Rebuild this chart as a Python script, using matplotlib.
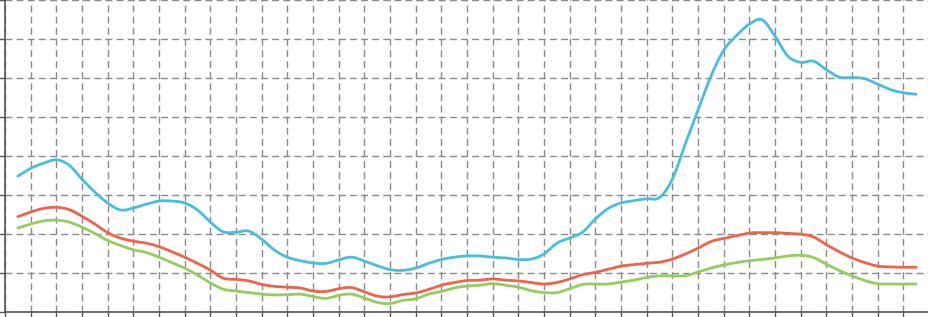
import numpy as np
import matplotlib
matplotlib.use("Agg")
import matplotlib.pyplot as plt

# readings taken every half grid step (x = 0.5, 1.0, ... 35.5)
x_steps = np.arange(1, 72) / 2.0

blue_vals = [34.8, 36.8, 38.1, 39.0, 37.6, 34.0, 30.7, 27.9, 26.1, 26.6,
             27.6, 28.4, 28.4, 27.9, 26.1, 23.0, 20.5, 20.4, 20.7, 18.6,
             15.8, 14.0, 13.1, 12.5, 12.4, 13.3, 14.0, 13.0, 11.8, 10.8,
             10.6, 11.2, 12.4, 13.4, 14.0, 14.3, 14.3, 14.0, 13.8, 13.4,
             13.5, 14.8, 17.6, 18.9, 20.4, 23.8, 26.5, 27.9, 28.5, 29.0,
             29.3, 34.0, 43.0, 51.7, 60.4, 67.1, 70.9, 73.8, 74.9, 70.7,
             65.6, 64.0, 64.3, 62.1, 60.2, 60.1, 59.8, 58.4, 57.0, 56.2,
             55.8]

red_vals = [24.4, 25.6, 26.5, 26.8, 26.2, 24.5, 22.5, 20.3, 18.9, 18.1,
            17.6, 16.7, 15.4, 14.0, 12.4, 10.7, 8.6, 8.3, 7.9, 7.0,
            6.5, 6.3, 6.1, 5.3, 5.2, 5.9, 6.2, 5.1, 4.0, 3.8,
            4.4, 4.8, 5.7, 6.8, 7.5, 8.0, 8.1, 8.4, 8.1, 7.9,
            7.5, 7.1, 7.5, 8.4, 9.5, 10.1, 10.9, 11.7, 12.1, 12.4,
            12.7, 13.5, 14.8, 16.3, 18.0, 18.8, 19.5, 20.2, 20.3, 20.3,
            20.1, 19.9, 19.2, 17.2, 15.4, 13.8, 12.6, 11.7, 11.5, 11.4,
            11.4]

green_vals = [21.5, 22.5, 23.3, 23.5, 23.0, 21.7, 20.1, 18.3, 17.0, 15.9,
              15.2, 14.0, 12.6, 11.2, 9.4, 7.4, 5.8, 5.3, 4.9, 4.5,
              4.3, 4.4, 4.5, 3.9, 3.4, 4.2, 4.5, 3.5, 2.4, 2.1,
              2.9, 3.3, 4.5, 5.2, 6.1, 6.6, 6.8, 7.2, 6.8, 6.3,
              5.4, 4.9, 4.9, 5.9, 7.0, 7.1, 7.1, 7.6, 8.1, 8.8,
              9.2, 9.2, 9.2, 10.2, 11.2, 12.0, 12.6, 13.1, 13.4, 13.8,
              14.3, 14.5, 13.9, 12.2, 10.6, 9.2, 8.0, 7.2, 7.1, 7.1,
              7.1]

colors = {"blue": "#47bee0", "red": "#f0634b", "green": "#93ce5c"}


def smooth(x, y, n=10):
    # Catmull-Rom curve through the read points, only for drawing
    x = np.asarray(x, float)
    y = np.asarray(y, float)
    t = np.linspace(0, 1, n, endpoint=False)[:, None]
    res = []
    for p in (x, y):
        p = np.concatenate([[2 * p[0] - p[1]], p, [2 * p[-1] - p[-2]]])
        p0, p1, p2, p3 = p[:-3], p[1:-2], p[2:-1], p[3:]
        seg = 0.5 * ((2 * p1) + (-p0 + p2) * t + (2 * p0 - 5 * p1 + 4 * p2 - p3) * t ** 2
                     + (-p0 + 3 * p1 - 3 * p2 + p3) * t ** 3)
        res.append(np.concatenate([seg.T.ravel(), [p[-2]]]))
    return res[0], res[1]


fig = plt.figure(figsize=(9.29, 3.17), dpi=100)
ax = fig.add_axes([5 / 929, 5.3 / 317, 924 / 929, 311.7 / 317])

for name, vals in [("blue", blue_vals), ("red", red_vals), ("green", green_vals)]:
    sx, sy = smooth(x_steps, vals)
    ax.plot(sx, sy, color=colors[name], lw=2.0, solid_capstyle="round", zorder=3)

ax.set_xlim(0, 36)
ax.set_ylim(0, 80)
ax.set_xticks(np.arange(0, 37, 1))
ax.set_yticks(np.arange(0, 81, 10))
ax.grid(True, color="#8a8a8a", linestyle=(0, (5, 3)), linewidth=1.0)
ax.tick_params(direction="out", length=5, width=1, color="#555555",
               labelbottom=False, labelleft=False)
for side in ["top", "right"]:
    ax.spines[side].set_visible(False)
for side in ["left", "bottom"]:
    ax.spines[side].set_color("#555555")
    ax.spines[side].set_linewidth(1.2)

fig.savefig("out.png", dpi=100)
